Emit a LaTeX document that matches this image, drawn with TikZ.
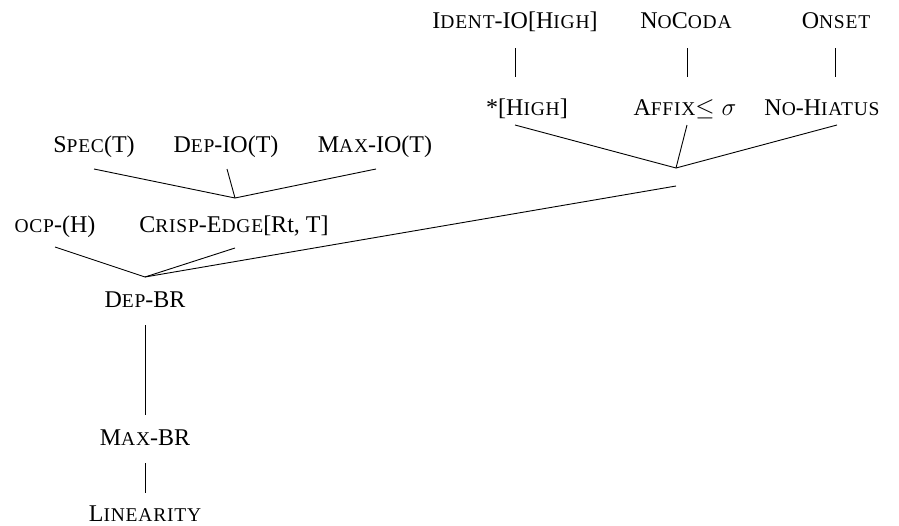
\documentclass[tikz,border=0pt]{standalone}
\usepackage{fontspec}
\setmainfont{Liberation Serif}
\newcommand{\sca}[1]{{\fontsize{19.5}{22}\selectfont\addfontfeature{LetterSpace=4}#1}}

\begin{document}
\begin{tikzpicture}[x=1pt, y=-1pt, line width=0.9pt,
    every node/.style={anchor=base, inner sep=0pt, font=\fontsize{24}{28}\selectfont}]
    \useasboundingbox (0,0) rectangle (899,525);

    % top group
    \node (ident) at (515,28) {I\sca{DENT}-IO[H\sca{IGH}]};
    \node (nocoda) at (686,28) {N\sca{O}C\sca{ODA}};
    \node (onset) at (836,28) {O\sca{NSET}};
    \node (star) at (527,115) {*[H\sca{IGH}]};
    \node (affix) at (685,115) {A\sca{FFIX}$\leq\sigma$};
    \node (nohiatus) at (822,115) {N\sca{O}-H\sca{IATUS}};
    \coordinate (hi) at (676,168);

    \draw ([yshift=-20pt]ident.base) -- ([xshift=-12pt, yshift=38pt]star.base);
    \draw ([xshift=1pt, yshift=-20pt]nocoda.base) -- ([xshift=2pt, yshift=38pt]affix.base);
    \draw ([xshift=-1pt, yshift=-20pt]onset.base) -- ([xshift=13pt, yshift=38pt]nohiatus.base);
    \draw ([xshift=-12pt, yshift=-10pt]star.base) -- (hi);
    \draw ([xshift=2pt, yshift=-10pt]affix.base) -- (hi);
    \draw ([xshift=15pt, yshift=-10pt]nohiatus.base) -- (hi);

    % tone group
    \node (spec) at (94,152) {S\sca{PEC}(T)};
    \node (depio) at (226,152) {D\sca{EP}-IO(T)};
    \node (maxio) at (375,152) {M\sca{AX}-IO(T)};
    \node (ocp) at (55,232) {\sca{OCP}-(H)};
    \node (crisp) at (234,232) {C\sca{RISP}-E\sca{DGE}[Rt, T]};

    \draw ([yshift=-17pt]spec.base) -- ([xshift=1pt, yshift=34pt]crisp.base);
    \draw ([xshift=1pt, yshift=-17pt]depio.base) -- ([xshift=1pt, yshift=34pt]crisp.base);
    \draw ([xshift=1pt, yshift=-17pt]maxio.base) -- ([xshift=1pt, yshift=34pt]crisp.base);

    % base-reduplicant
    \node (debr) at (145,307) {D\sca{EP}-BR};
    \node (maxbr) at (145,445) {M\sca{AX}-BR};
    \node (lin) at (145,521) {L\sca{INEARITY}};

    \draw (ocp.base |- 0,247) -- ([yshift=30pt]debr.base);
    \draw ([xshift=1pt, yshift=-16pt]crisp.base) -- ([yshift=30pt]debr.base);
    \draw ([yshift=-18pt]hi) -- ([yshift=30pt]debr.base);
    \draw ([yshift=-18pt]debr.base) -- ([yshift=30pt]maxbr.base);
    \draw ([yshift=-18pt]maxbr.base) -- ([yshift=28pt]lin.base);
\end{tikzpicture}
\end{document}
